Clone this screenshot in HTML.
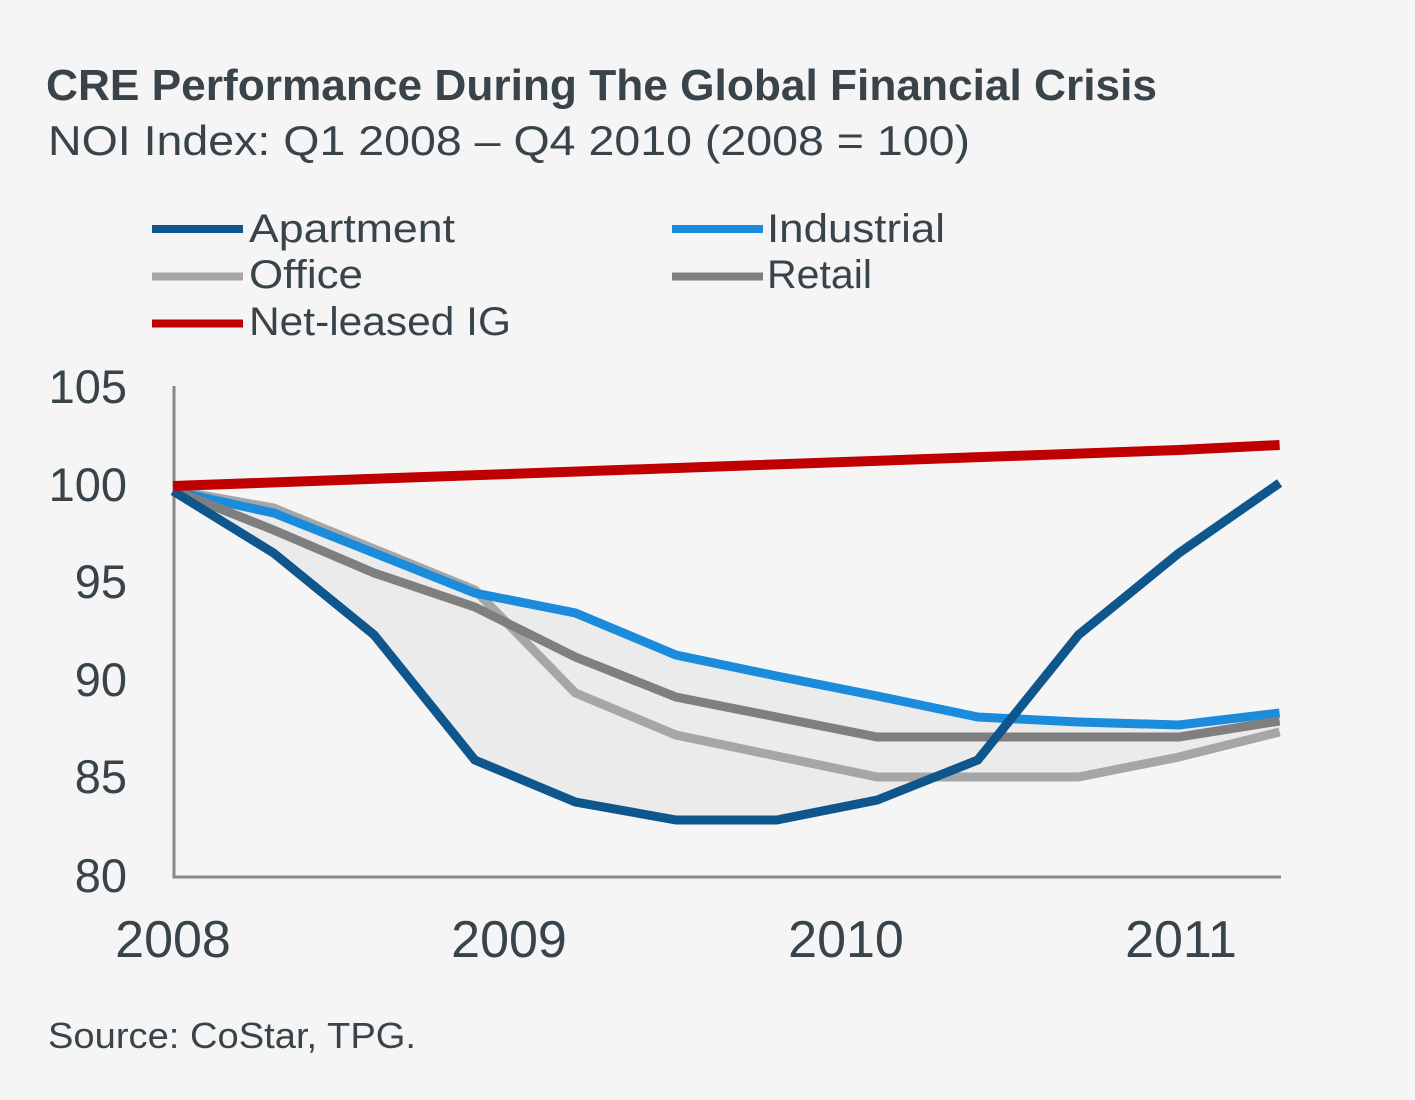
<!DOCTYPE html>
<html>
<head>
<meta charset="utf-8">
<style>
  html, body { margin: 0; padding: 0; background: #f5f5f5; }
  svg { display: block; }
  text { font-family: "Liberation Sans", "DejaVu Sans", sans-serif; fill: #38434a; }
</style>
</head>
<body>
<svg width="1415" height="1100" viewBox="0 0 1415 1100" xmlns="http://www.w3.org/2000/svg">
  <rect x="0" y="0" width="1415" height="1100" fill="#f5f5f5"/>

  <!-- Title -->
  <text x="46" y="100" font-size="44" font-weight="bold" textLength="1111" lengthAdjust="spacingAndGlyphs">CRE Performance During The Global Financial Crisis</text>
  <text x="48" y="155" font-size="42" textLength="922" lengthAdjust="spacingAndGlyphs">NOI Index: Q1 2008 – Q4 2010 (2008 = 100)</text>

  <!-- Legend -->
  <line x1="152" y1="229" x2="243" y2="229" stroke="#0f568d" stroke-width="8"/>
  <text x="249" y="242" font-size="40" textLength="206" lengthAdjust="spacingAndGlyphs">Apartment</text>
  <line x1="672" y1="229" x2="763" y2="229" stroke="#1b8cdc" stroke-width="8"/>
  <text x="767" y="242" font-size="40" textLength="178" lengthAdjust="spacingAndGlyphs">Industrial</text>

  <line x1="152" y1="276.5" x2="243" y2="276.5" stroke="#a6a6a6" stroke-width="8"/>
  <text x="249" y="288" font-size="40" textLength="114" lengthAdjust="spacingAndGlyphs">Office</text>
  <line x1="672" y1="276.5" x2="763" y2="276.5" stroke="#7f7f7f" stroke-width="8"/>
  <text x="767" y="288" font-size="40" textLength="105" lengthAdjust="spacingAndGlyphs">Retail</text>

  <line x1="152" y1="323.5" x2="243" y2="323.5" stroke="#c00000" stroke-width="8"/>
  <text x="249" y="335" font-size="40" textLength="262" lengthAdjust="spacingAndGlyphs">Net-leased IG</text>

  <!-- Y tick labels -->
  <g font-size="47" text-anchor="end">
    <text x="127" y="403">105</text>
    <text x="127" y="501">100</text>
    <text x="127" y="598">95</text>
    <text x="127" y="696">90</text>
    <text x="127" y="793">85</text>
    <text x="127" y="892">80</text>
  </g>

  <!-- X tick labels -->
  <g font-size="52" text-anchor="middle">
    <text x="173" y="957">2008</text>
    <text x="509" y="957">2009</text>
    <text x="846" y="957">2010</text>
    <text x="1181" y="957">2011</text>
  </g>

  <!-- Shaded band -->
  <polygon fill="#ebebeb" points="
    173,490 273.6,508 374.2,549 474.8,590 575.4,613 676,655 776.6,676 877.2,696 977.8,717 1078.4,722 1179,725 1279.6,713
    1279.6,732 1179,757 1078.4,777 977.8,777 934,777 877.2,800 776.6,820 676,820 575.4,802 474.8,760 374.2,635 273.6,553 173,491"/>

  <!-- Axes -->
  <line x1="174" y1="386" x2="174" y2="877" stroke="#888888" stroke-width="3"/>
  <line x1="172.5" y1="877" x2="1281" y2="877" stroke="#888888" stroke-width="3"/>

  <!-- Series -->
  <g fill="none" stroke-width="9" stroke-linejoin="miter">
    <polyline stroke="#a6a6a6" points="173,490 273.6,508 374.2,549 474.8,590 575.4,693 676,735 776.6,756 877.2,777 977.8,777 1078.4,777 1179,757 1279.6,732"/>
    <polyline stroke="#1b8cdc" points="173,491 273.6,513 374.2,553 474.8,593 575.4,613 676,655 776.6,676 877.2,696 977.8,717 1078.4,722 1179,725 1279.6,713"/>
    <polyline stroke="#7f7f7f" points="173,490 273.6,530 374.2,573 474.8,607 575.4,657 676,697 776.6,717 877.2,737 977.8,737 1078.4,737 1179,737 1279.6,721"/>
    <polyline stroke="#0f568d" points="173,491 273.6,553 374.2,635 474.8,760 575.4,802 676,820 776.6,820 877.2,800 977.8,760 1078.4,635 1179,553 1279.6,483"/>
    <polyline stroke="#c00000" stroke-width="10" points="173,486 1179,450 1279.6,445"/>
  </g>

  <!-- Source -->
  <text x="48" y="1048" font-size="36" textLength="368" lengthAdjust="spacingAndGlyphs">Source: CoStar, TPG.</text>
</svg>
</body>
</html>
